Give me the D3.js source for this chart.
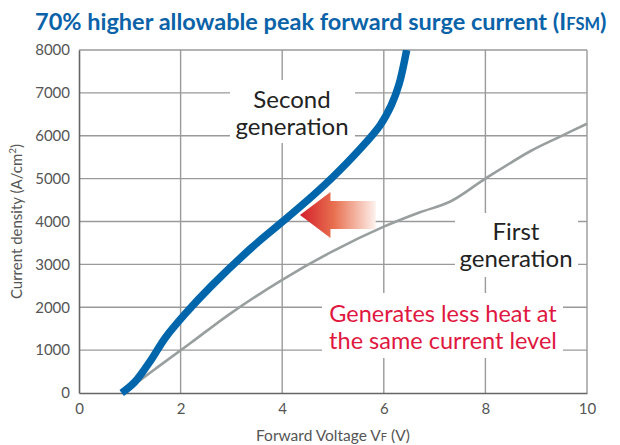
<!DOCTYPE html>
<html>
<head>
<meta charset="utf-8">
<script src="https://cdn.jsdelivr.net/npm/d3@7"></script>
<style>
  html, body { margin: 0; padding: 0; background: #fff; }
  svg { display: block; }
  text { font-family: "Lato", "Noto Sans", sans-serif; }
</style>
</head>
<body>
<svg id="chart" width="620" height="445"></svg>
<script>
// Forward voltage (V) vs current density (A/cm²)
const secondGenVf = [0.84, 1.1, 1.4, 1.7, 2.1, 2.6, 3.4, 4.0, 4.6, 5.0, 5.5, 5.93, 6.15, 6.3, 6.45];
const secondGenJ  = [0, 260, 740, 1290, 1860, 2490, 3390, 3990, 4600, 5040, 5650, 6250, 6720, 7200, 8000];

const firstGenVf = [0.86, 1.5, 2.19, 3.0, 4.0, 5.0, 6.0, 6.7, 7.3, 8.0, 8.9, 9.47, 10.0];
const firstGenJ  = [0, 560, 1160, 1870, 2640, 3310, 3880, 4210, 4460, 5000, 5650, 5980, 6280];

const xTicks = [0, 2, 4, 6, 8, 10];
const yTicks = [0, 1000, 2000, 3000, 4000, 5000, 6000, 7000, 8000];

const svg = d3.select("#chart");
const margin = { left: 79, right: 33, top: 50, bottom: 52 };
const W = 620, H = 445;

const x = d3.scaleLinear().domain([0, 10]).range([margin.left, W - margin.right]);
const y = d3.scaleLinear().domain([0, 8000]).range([H - margin.bottom, margin.top]);

// Title
const title = svg.append("text")
  .attr("x", 35).attr("y", 30)
  .attr("fill", "#0a63a8")
  .attr("font-weight", 700)
  .attr("font-size", 23.5);
title.append("tspan").text("70% higher allowable peak forward surge current (I");
title.append("tspan").attr("font-size", 16.5).text("FSM");
title.append("tspan").text(")");

// Grid
const grid = svg.append("g").attr("stroke", "#9a9a9a").attr("stroke-width", 1.4);
grid.selectAll("line.h").data(yTicks.slice(1)).join("line")
  .attr("x1", x(0)).attr("x2", x(10))
  .attr("y1", d => y(d)).attr("y2", d => y(d));
grid.selectAll("line.v").data(xTicks.slice(1)).join("line")
  .attr("y1", y(0)).attr("y2", y(8000))
  .attr("x1", d => x(d)).attr("x2", d => x(d));

// White knock-out panels behind the annotation text
const panels = [
  { x0: 230, x1: 355, y0: 80, y1: 143 },
  { x0: 455, x1: 578, y0: 213, y1: 277 },
  { x0: 322, x1: 563, y0: 293, y1: 358 }
];
svg.append("g").selectAll("rect").data(panels).join("rect")
  .attr("x", d => d.x0).attr("y", d => d.y0)
  .attr("width", d => d.x1 - d.x0).attr("height", d => d.y1 - d.y0)
  .attr("fill", "#fff");

// Axes
const xAxis = svg.append("g").attr("transform", `translate(0,${y(0)})`)
  .call(d3.axisBottom(x).tickValues(xTicks).tickSize(0).tickPadding(10));
const yAxis = svg.append("g").attr("transform", `translate(${x(0)},0)`)
  .call(d3.axisLeft(y).tickValues(yTicks).tickSize(0).tickPadding(9).tickFormat(d3.format("d")));
[xAxis, yAxis].forEach(a => {
  a.select(".domain").attr("stroke", "#666").attr("stroke-width", 1.6);
  a.selectAll("text").attr("fill", "#555").attr("font-size", 15)
    .attr("font-family", "Lato, sans-serif");
});

// Axis titles
const xt = svg.append("text")
  .attr("x", (x(0) + x(10)) / 2) .attr("y", 441)
  .attr("text-anchor", "middle").attr("fill", "#555").attr("font-size", 15.5);
xt.append("tspan").text("Forward Voltage V");
xt.append("tspan").attr("font-size", 11).text("F");
xt.append("tspan").text(" (V)");

const yt = svg.append("text")
  .attr("transform", `translate(22,${(y(0) + y(8000)) / 2}) rotate(-90)`)
  .attr("text-anchor", "middle").attr("fill", "#555").attr("font-size", 15);
yt.append("tspan").text("Current density (A/cm");
yt.append("tspan").attr("font-size", 10).attr("dy", -6).text("2");
yt.append("tspan").attr("dy", 6).text(")");

// Curves
const line = d3.line().x(d => x(d[0])).y(d => y(d[1])).curve(d3.curveCatmullRom.alpha(0.5));
svg.append("path")
  .datum(d3.zip(firstGenVf, firstGenJ))
  .attr("d", line).attr("fill", "none")
  .attr("stroke", "#999e9e").attr("stroke-width", 2.6);

const defs = svg.append("defs");
defs.append("clipPath").attr("id", "plotclip")
  .append("rect").attr("x", 0).attr("y", y(8000)).attr("width", W).attr("height", H);
svg.append("path")
  .datum(d3.zip(secondGenVf, secondGenJ))
  .attr("d", line).attr("fill", "none")
  .attr("clip-path", "url(#plotclip)")
  .attr("stroke", "#0066ac").attr("stroke-width", 7.5)
  .attr("stroke-linejoin", "round");

// Gradient arrow pointing from first toward second generation
const grad = defs.append("linearGradient")
  .attr("id", "arrowGrad").attr("x1", "0%").attr("x2", "100%");
grad.append("stop").attr("offset", "0%").attr("stop-color", "#d3202c");
grad.append("stop").attr("offset", "45%").attr("stop-color", "#e8704f");
grad.append("stop").attr("offset", "100%").attr("stop-color", "#fdf1ec");

const tipX = x(4.35), tipY = y(4150);
const headX = x(4.95), tailX = x(5.84);
const arrowPts = [
  [tipX, tipY], [headX, tipY - 23], [headX, tipY - 14], [tailX, tipY - 14],
  [tailX, tipY + 14], [headX, tipY + 14], [headX, tipY + 23]
];
svg.append("path")
  .attr("d", d3.line()(arrowPts) + "Z")
  .attr("fill", "url(#arrowGrad)");

// Annotations
function label(lines, cx, y0, color, size, gap) {
  const t = svg.append("text").attr("text-anchor", "middle")
    .attr("fill", color).attr("font-size", size);
  lines.forEach((s, i) => t.append("tspan").attr("x", cx).attr("y", y0 + i * gap).text(s));
}
label(["Second", "generation"], 292, 108, "#222", 24, 27);
label(["First", "generation"], 516, 240, "#222", 24, 27);
label(["Generates less heat at", "the same current level"], 443, 322, "#e0173f", 23.5, 27);
</script>
</body>
</html>
